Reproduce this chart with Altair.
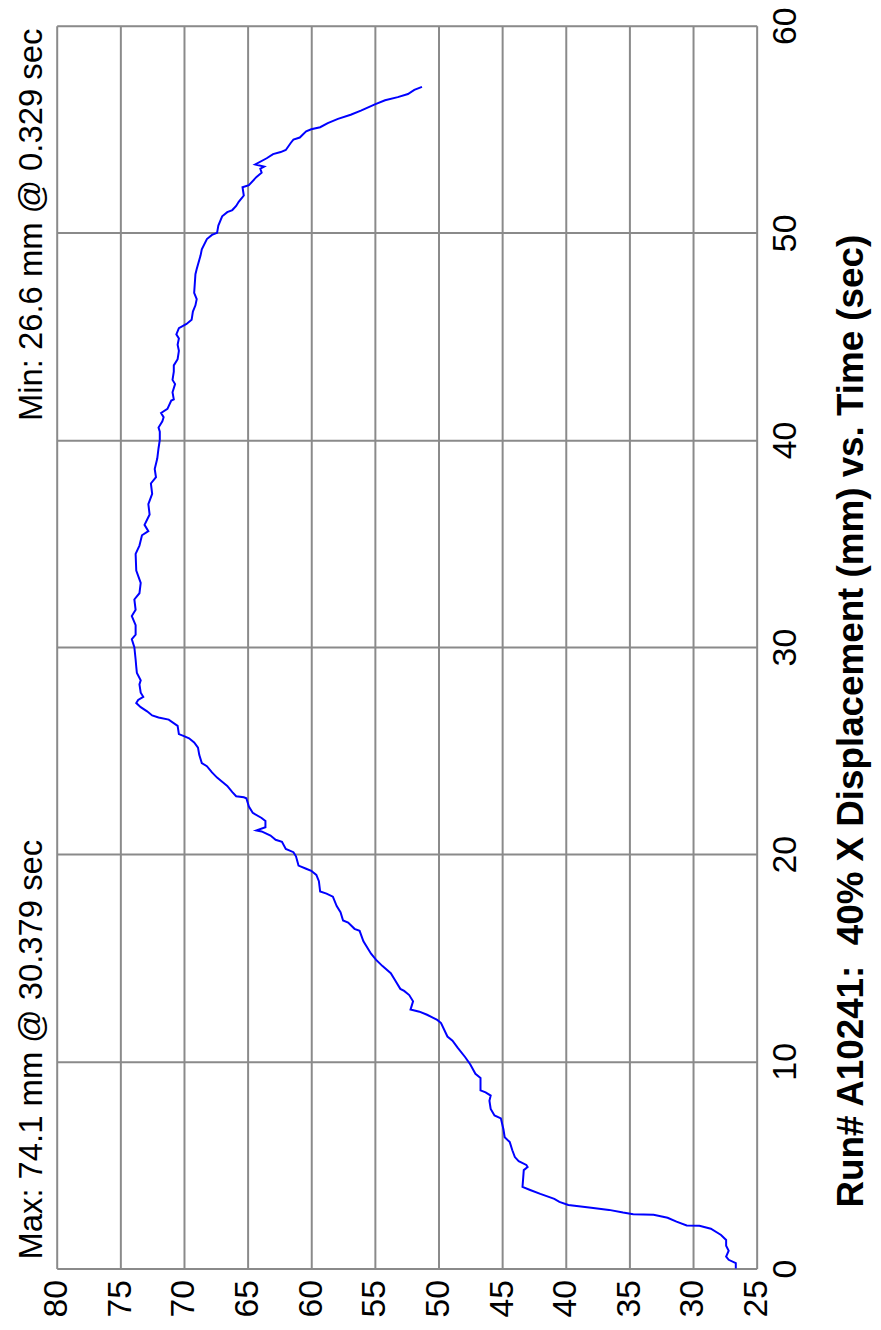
import altair as alt
import pandas as pd

# Time (sec) readings
time_s = [0.00, 0.26, 0.42, 0.58, 0.86, 1.10, 1.38, 1.62, 1.92, 2.06, 2.08, 2.26, 2.45, 2.59, 2.62,
          2.70, 2.83, 2.93, 3.07, 3.22, 3.36, 3.60, 3.79, 3.94, 4.75, 4.90, 5.00, 5.18, 5.38, 5.71,
          6.10, 6.34, 6.72, 7.25, 7.39, 7.70, 8.10, 8.35, 8.50, 8.60, 9.20, 9.40, 9.85, 10.2, 10.66,
          11.0, 11.2, 11.85, 12.0, 12.25, 12.4, 12.5, 12.9, 13.2, 13.4, 13.5, 13.9, 14.26, 14.6, 14.9,
          15.2, 15.8, 16.3, 16.4, 16.7, 16.8, 17.2, 17.5, 17.95, 18.1, 18.2, 18.7, 19.0, 19.2, 19.3,
          19.45, 19.9, 20.1, 20.26, 20.6, 20.7, 20.9, 21.1, 21.15, 21.3, 21.6, 21.75, 22.0, 22.3, 22.7,
          22.75, 22.8, 23.0, 23.3, 23.5, 23.7, 23.95, 24.25, 24.4, 24.8, 25.15, 25.4, 25.6, 25.7, 25.8,
          26.2, 26.5, 26.6, 26.7, 26.9, 27.1, 27.3, 27.45, 27.6, 27.8, 28.2, 28.4, 28.75, 29.05, 29.4,
          30.0, 30.38, 30.6, 31.06, 31.5, 31.8, 32.3, 32.6, 33.1, 33.7, 34.5, 34.9, 35.4, 35.6, 35.9,
          36.4, 36.9, 37.4, 37.9, 38.2, 38.6, 39.1, 39.6, 40.0, 40.4, 40.6, 40.9, 41.1, 41.3, 41.5,
          41.9, 41.96, 42.3, 42.7, 42.9, 43.3, 43.6, 43.9, 44.3, 44.6, 44.9, 45.1, 45.4, 45.6, 45.8,
          46.2, 46.5, 46.8, 47.1, 48.0, 48.25, 48.9, 49.2, 49.7, 49.9, 50.0, 50.35, 50.8, 51.0, 51.1,
          51.3, 51.5, 51.8, 52.2, 52.3, 52.7, 52.9, 53.1, 53.2, 53.3, 53.6, 53.8, 53.9, 54.0, 54.35,
          54.5, 54.6, 54.9, 55.0, 55.1, 55.3, 55.5, 55.7, 55.9, 56.2, 56.4, 56.55, 56.7, 56.9, 57.05]

# X Displacement (mm) readings
disp_mm = [26.64, 26.64, 27.2, 27.4, 27.2, 27.4, 27.4, 27.8, 28.6, 29.5, 30.5, 31.3, 32.0, 33.1, 34.7,
           35.5, 36.6, 38.0, 39.8, 40.5, 40.9, 42.0, 42.8, 43.4, 43.3, 43.0, 43.1, 43.7, 44.0, 44.2,
           44.4, 44.8, 44.9, 45.1, 45.6, 45.9, 46.0, 45.9, 46.3, 46.7, 46.7, 47.1, 47.5, 47.9, 48.5,
           48.9, 49.3, 49.8, 50.1, 50.9, 51.5, 52.2, 52.0, 52.3, 52.7, 53.0, 53.4, 53.75, 54.4, 54.9,
           55.3, 55.9, 56.2, 56.6, 57.1, 57.5, 57.7, 58.0, 58.3, 58.8, 59.3, 59.4, 59.6, 60.0, 60.4,
           61.0, 61.2, 61.4, 62.0, 62.3, 62.8, 63.2, 63.9, 64.3, 63.6, 63.6, 63.9, 64.6, 64.9, 65.1,
           65.3, 65.9, 66.2, 66.6, 67.0, 67.4, 67.8, 68.2, 68.6, 68.8, 68.9, 69.2, 69.6, 70.0, 70.4,
           70.5, 71.2, 72.0, 72.5, 72.9, 73.4, 73.75, 73.6, 73.2, 73.4, 73.5, 73.4, 73.7, 73.75, 73.8,
           73.9, 74.1, 73.8, 73.8, 74.1, 73.8, 73.9, 73.5, 73.4, 73.75, 73.8, 73.5, 73.3, 72.8, 73.1,
           72.7, 72.8, 72.5, 72.6, 72.2, 72.3, 72.1, 72.0, 71.9, 71.9, 72.0, 71.7, 71.6, 71.8, 71.3,
           71.0, 70.8, 70.9, 70.7, 70.9, 70.8, 70.8, 70.5, 70.4, 70.5, 70.4, 70.6, 70.4, 69.8, 69.4,
           69.3, 69.1, 69.0, 69.2, 69.1, 69.0, 68.7, 68.6, 68.2, 67.8, 67.4, 67.3, 67.0, 66.6, 66.2,
           65.9, 65.7, 65.3, 65.4, 64.9, 64.3, 63.9, 64.0, 63.7, 64.4, 63.5, 63.0, 62.4, 62.0, 61.6,
           61.4, 60.9, 60.4, 60.0, 59.3, 58.7, 57.9, 56.9, 56.1, 55.0, 54.2, 53.2, 52.4, 51.9, 51.3]

disp_ticks = [25, 30, 35, 40, 45, 50, 55, 60, 65, 70, 75, 80]
time_ticks = [0, 10, 20, 30, 40, 50, 60]
title_text = "Run# A10241:\u00a0\u00a040% X Displacement (mm) vs. Time (sec)"
max_text = "Max: 74.1 mm @ 30.379 sec"
min_text = "Min: 26.6 mm @ 0.329 sec"

FONT = "Liberation Sans"

df = pd.DataFrame({"t": time_s, "d": disp_mm})

line = alt.Chart(df).mark_line(color="#0000ff", strokeWidth=2).encode(
    x=alt.X("d:Q",
            scale=alt.Scale(domain=[25, 80], reverse=True, nice=False, zero=False),
            axis=alt.Axis(values=disp_ticks, orient="bottom", title=None, grid=True,
                          ticks=False, domain=False, labelAngle=270, labelAlign="right",
                          labelBaseline="middle", labelPadding=11, labelFontSize=34,
                          labelFont=FONT, labelColor="black", labelFlush=False,
                          labelOverlap=False, labelBound=False,
                          gridColor="#8a8a8a", gridWidth=2, gridOpacity=1)),
    y=alt.Y("t:Q",
            scale=alt.Scale(domain=[0, 60], nice=False, zero=False),
            axis=alt.Axis(values=time_ticks, orient="right", title=title_text,
                          grid=True, ticks=False, domain=False, labelAngle=270,
                          labelAlign="center", labelBaseline="top", labelPadding=12,
                          labelFontSize=34, labelFont=FONT, labelColor="black",
                          labelFlush=False, labelOverlap=False, labelBound=False,
                          gridColor="#8a8a8a", gridWidth=2, gridOpacity=1,
                          titleAngle=270, titleFont=FONT, titleFontSize=37,
                          titleFontWeight="bold", titleColor="black",
                          titleAlign="center", titleBaseline="middle",
                          titleX=95, titleY=699)),
    order=alt.Order("t:Q"),
)

max_mark = alt.Chart(pd.DataFrame({"label": [max_text]})).mark_text(
    angle=270, align="left", baseline="middle", font=FONT, fontSize=33, color="black"
).encode(text="label:N", x=alt.value(-25), y=alt.value(1241))

min_mark = alt.Chart(pd.DataFrame({"label": [min_text]})).mark_text(
    angle=270, align="right", baseline="middle", font=FONT, fontSize=33, color="black"
).encode(text="label:N", x=alt.value(-25), y=alt.value(3))

chart = alt.layer(line, max_mark, min_mark).properties(
    width=704, height=1250,
    autosize=alt.AutoSizeParams(type="none"),
    padding={"left": 49, "top": 14, "right": 117, "bottom": 50},
).configure_view(stroke="#a0a0a0", strokeWidth=2).configure(background="white")

chart.save("out.html", embed_options={"renderer": "svg", "actions": False})
